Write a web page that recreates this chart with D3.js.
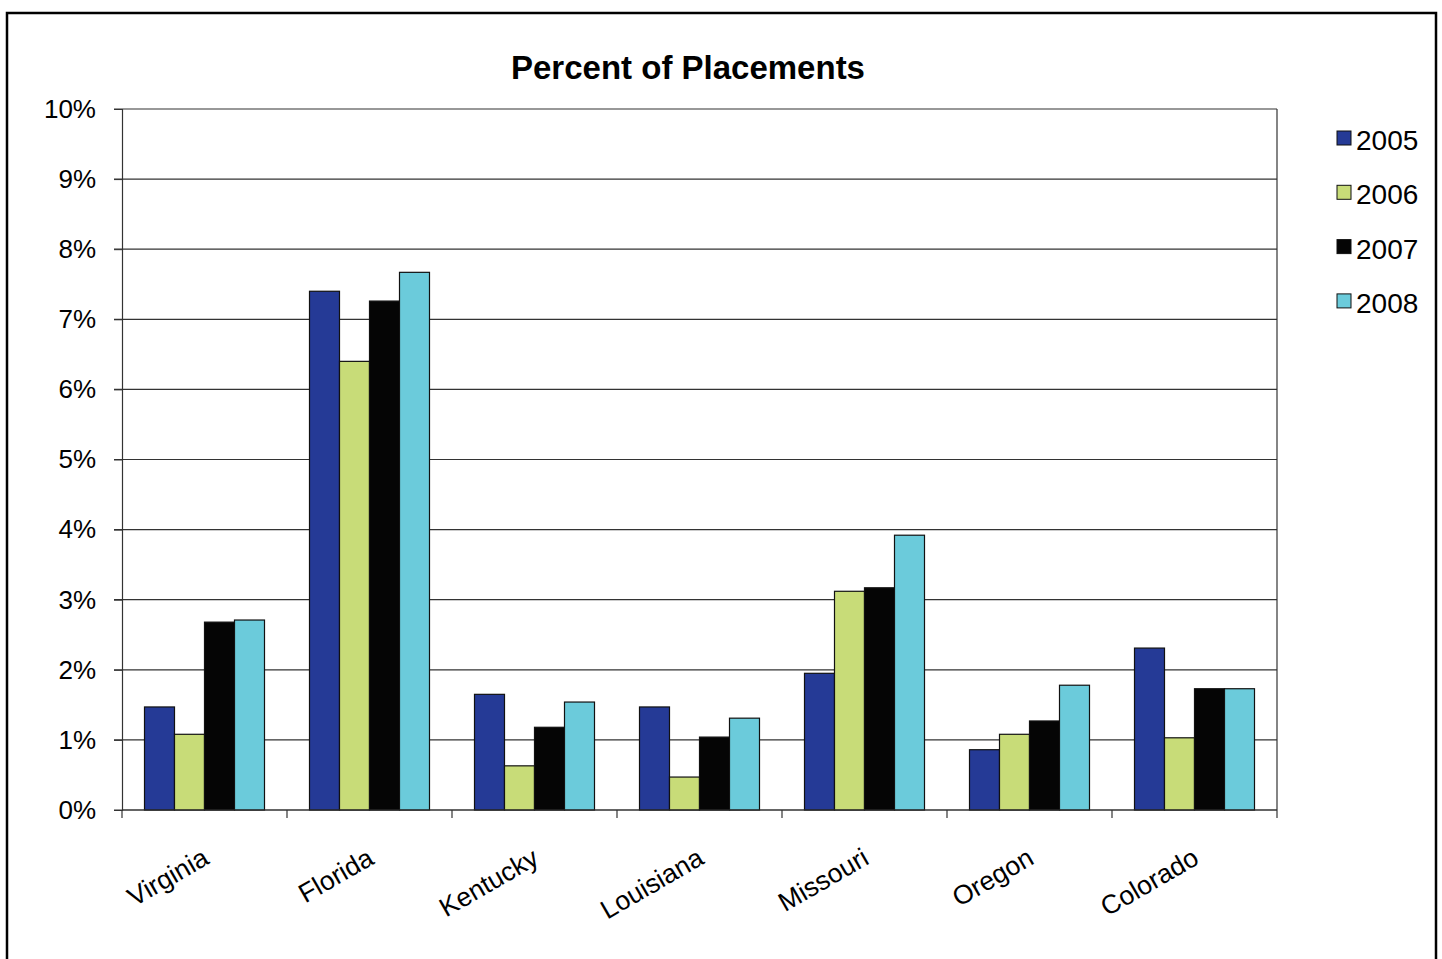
<!DOCTYPE html>
<html><head><meta charset="utf-8">
<script src="https://cdn.jsdelivr.net/npm/d3@7"></script>
<style>body{margin:0;background:#fff}svg{display:block;font-family:"Liberation Sans",Arial,sans-serif}</style>
</head><body>
<svg id="c" width="1442" height="959"></svg>
<script>
const categories = ["Virginia","Florida","Kentucky","Louisiana","Missouri","Oregon","Colorado"];
const years = ["2005","2006","2007","2008"];
const v2005 = [1.47, 7.40, 1.65, 1.47, 1.95, 0.86, 2.31];
const v2006 = [1.08, 6.40, 0.63, 0.47, 3.12, 1.08, 1.03];
const v2007 = [2.68, 7.26, 1.18, 1.04, 3.17, 1.27, 1.73];
const v2008 = [2.71, 7.67, 1.54, 1.31, 3.92, 1.78, 1.73];
const yTicks = [0,1,2,3,4,5,6,7,8,9,10];
const colors = ["#253A96","#C8DC78","#050505","#6BCBDB"];
const series = [v2005,v2006,v2007,v2008];

const svg = d3.select("#c");
svg.append("rect").attr("x",7).attr("y",13).attr("width",1429).attr("height",960)
  .attr("fill","#fff").attr("stroke","#000").attr("stroke-width",2.5);

const L=122,R=1277,T=109,B=810;
const x = d3.scaleBand().domain(categories).range([L,R]).paddingInner(0).paddingOuter(0);
const xi = d3.scaleBand().domain(years).range([22.5, x.bandwidth()-22.5]);
const y = d3.scaleLinear().domain([0,10]).range([B,T]);

svg.append("g").selectAll("line").data(yTicks).join("line")
  .attr("x1",L-8).attr("x2",R).attr("y1",d=>y(d)).attr("y2",d=>y(d))
  .attr("stroke","#333").attr("stroke-width",1.2);
svg.append("line").attr("x1",R).attr("x2",R).attr("y1",T).attr("y2",B).attr("stroke","#333").attr("stroke-width",1.2);

const ya = svg.append("g").attr("transform",`translate(${L},0)`)
  .call(d3.axisLeft(y).tickValues(yTicks).tickFormat(d=>d+"%").tickSize(8).tickPadding(18));
ya.select(".domain").attr("stroke","#333").attr("stroke-width",1.2);
ya.selectAll(".tick line").attr("stroke","#333");
ya.selectAll("text").attr("font-size",26).attr("fill","#000").attr("font-family","Liberation Sans, Arial, sans-serif");

categories.forEach((c,ci)=>{
  series.forEach((s,si)=>{
    svg.append("rect")
      .attr("x",x(c)+xi(years[si])).attr("width",xi.bandwidth())
      .attr("y",y(s[ci])).attr("height",B-y(s[ci]))
      .attr("fill",colors[si]).attr("stroke","#111").attr("stroke-width",1.2);
  });
});

const xa = svg.append("g").attr("transform",`translate(0,${B})`);
xa.append("line").attr("x1",L).attr("x2",R).attr("stroke","#333").attr("stroke-width",1.2);
const bounds = categories.map(c=>x(c)).concat([R]);
xa.selectAll(".tk").data(bounds).join("line").attr("class","tk")
  .attr("x1",d=>d).attr("x2",d=>d).attr("y1",0).attr("y2",8).attr("stroke","#333").attr("stroke-width",1.2);
xa.selectAll("text").data(categories).join("text")
  .attr("transform",d=>`translate(${x(d)+x.bandwidth()/2+6},${53}) rotate(-30)`)
  .attr("text-anchor","end").attr("font-size",26.5).attr("fill","#000").text(d=>d);

svg.append("text").attr("x",688).attr("y",79).attr("text-anchor","middle")
  .attr("font-size",33).attr("font-weight","bold").text("Percent of Placements");

const lg = svg.append("g");
years.forEach((yr,i)=>{
  const yy = 139 + i*54.3;
  lg.append("rect").attr("x",1337).attr("y",yy-8).attr("width",14).attr("height",14)
    .attr("fill",colors[i]).attr("stroke","#111").attr("stroke-width",1);
  lg.append("text").attr("x",1356).attr("y",yy+11).attr("font-size",28).text(yr);
});
</script>
</body></html>
